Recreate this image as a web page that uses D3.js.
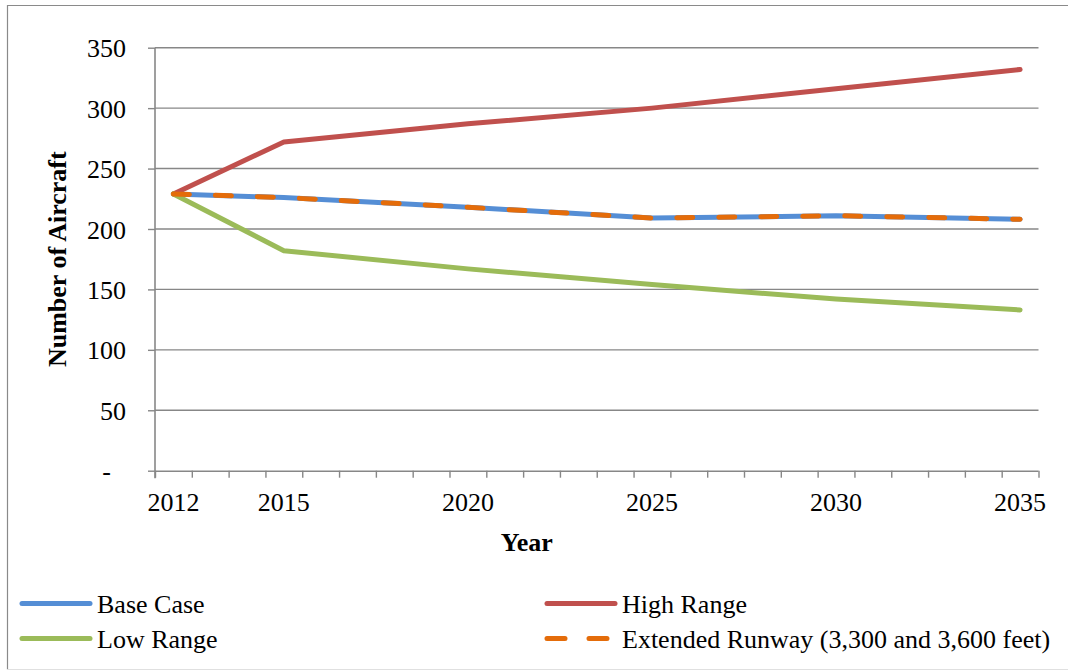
<!DOCTYPE html>
<html>
<head>
<meta charset="utf-8">
<script src="https://cdn.jsdelivr.net/npm/d3@7"></script>
<style>
  html, body { margin: 0; padding: 0; background: #fff; }
  svg { display: block; }
</style>
</head>
<body>
<svg id="chart" width="1068" height="671"></svg>
<script>
// ---- data ----
const years = [2012, 2015, 2020, 2025, 2030, 2035];
const baseCase = [229, 226, 218, 209, 211, 208];
const highRange = [229, 272, 287, 300, 316, 332];
const lowRange = [229, 182, 167, 154, 142, 133];
const extendedRunway = [229, 226, 218, 209, 211, 208];
const yTicks = [0, 50, 100, 150, 200, 250, 300, 350];
const seriesNames = ["Base Case", "High Range", "Low Range", "Extended Runway (3,300 and 3,600 feet)"];

const colors = {
  "Base Case": "#558ED5",
  "High Range": "#C0504D",
  "Low Range": "#9BBB59",
  "Extended Runway (3,300 and 3,600 feet)": "#E46C0A"
};
const FONT = "'Liberation Serif', 'Times New Roman', Tinos, serif";

const svg = d3.select("#chart");

// frame
svg.append("line").attr("x1", 7).attr("x2", 1068).attr("y1", 5.5).attr("y2", 5.5)
  .attr("stroke", "#8a8a8a").attr("stroke-width", 1.2);
svg.append("line").attr("x1", 7.5).attr("x2", 7.5).attr("y1", 5).attr("y2", 669.5)
  .attr("stroke", "#8a8a8a").attr("stroke-width", 1.2);
svg.append("line").attr("x1", 7).attr("x2", 1068).attr("y1", 669.5).attr("y2", 669.5)
  .attr("stroke", "#e0e0e0").attr("stroke-width", 1);

const pLeft = 155, pRight = 1038.5, pTop = 47.7, pBottom = 470.7;
const x = d3.scaleLinear().domain([2011.5, 2035.5]).range([pLeft, pRight]);
const y = d3.scaleLinear().domain([0, 350]).range([pBottom, pTop]);

// gridlines
svg.append("g").selectAll("line").data(yTicks.filter(d => d > 0)).join("line")
  .attr("x1", pLeft).attr("x2", pRight)
  .attr("y1", d => y(d)).attr("y2", d => y(d))
  .attr("stroke", "#878787").attr("stroke-width", 1.4);

// y axis
const yAxis = svg.append("g").attr("transform", `translate(${pLeft},0)`)
  .call(d3.axisLeft(y).tickValues(yTicks).tickSize(7).tickPadding(22)
    .tickFormat(d => d === 0 ? "-" : d3.format("d")(d)));
yAxis.attr("font-family", null).attr("font-size", null);
yAxis.select(".domain").remove();
yAxis.selectAll(".tick line").attr("stroke", "#878787").attr("stroke-width", 1.4);
yAxis.selectAll(".tick text")
  .style("font-family", FONT).style("font-size", "26px").style("fill", "#000")
  .attr("dy", "0.35em");
yAxis.selectAll(".tick").filter(d => d === 0).select("text").attr("x", -44);
svg.append("line").attr("x1", pLeft).attr("x2", pLeft).attr("y1", pTop).attr("y2", pBottom + 7.5)
  .attr("stroke", "#878787").attr("stroke-width", 1.6);

// x axis
const xTickVals = d3.range(2011.5, 2036, 1);
const xAxis = svg.append("g").attr("transform", `translate(0,${pBottom})`)
  .call(d3.axisBottom(x).tickValues(xTickVals).tickSize(7).tickFormat(""));
xAxis.select(".domain").attr("stroke", "#878787").attr("stroke-width", 1.6)
  .attr("d", `M${pLeft},0.5H${pRight}`);
xAxis.selectAll(".tick line").attr("stroke", "#878787").attr("stroke-width", 1.4);
svg.append("g").selectAll("text").data(years).join("text")
  .attr("x", d => x(d)).attr("y", 511)
  .attr("text-anchor", "middle")
  .style("font-family", FONT).style("font-size", "26px").style("fill", "#000")
  .text(d => d);

// axis titles
svg.append("text").attr("x", (pLeft + pRight) / 2 - 70).attr("y", 551)
  .attr("text-anchor", "middle")
  .style("font-family", FONT).style("font-size", "26px").style("font-weight", "bold")
  .text("Year");
svg.append("text").attr("transform", `translate(66,${(pTop + pBottom) / 2}) rotate(-90)`)
  .attr("text-anchor", "middle")
  .style("font-family", FONT).style("font-size", "26px").style("font-weight", "bold")
  .text("Number of Aircraft");

// lines
const line = d3.line().x((d, i) => x(years[i])).y(d => y(d));
const seriesData = [
  { name: "Base Case", values: baseCase, dash: null },
  { name: "High Range", values: highRange, dash: null },
  { name: "Low Range", values: lowRange, dash: null },
  { name: "Extended Runway (3,300 and 3,600 feet)", values: extendedRunway, dash: "16,26" }
];
svg.append("g").selectAll("path").data(seriesData).join("path")
  .attr("d", d => line(d.values))
  .attr("fill", "none")
  .attr("stroke", d => colors[d.name])
  .attr("stroke-width", 5)
  .attr("stroke-linecap", "round")
  .attr("stroke-linejoin", "round")
  .attr("stroke-dasharray", d => d.dash);

// legend
const legendPos = [
  { name: seriesNames[0], lx: 20, ly: 603.5, dash: null },
  { name: seriesNames[1], lx: 545, ly: 603.5, dash: null },
  { name: seriesNames[2], lx: 20, ly: 638.5, dash: null },
  { name: seriesNames[3], lx: 545, ly: 638.5, dash: "18,24" }
];
const lg = svg.append("g").selectAll("g").data(legendPos).join("g");
lg.append("line")
  .attr("x1", d => d.lx + 2).attr("x2", d => d.lx + 70)
  .attr("y1", d => d.ly).attr("y2", d => d.ly)
  .attr("stroke", d => colors[d.name]).attr("stroke-width", 5)
  .attr("stroke-linecap", "round")
  .attr("stroke-dasharray", d => d.dash);
lg.append("text")
  .attr("x", d => d.lx + 77).attr("y", d => d.ly + 9)
  .style("font-family", FONT).style("font-size", "26px").style("fill", "#000")
  .text(d => d.name);
</script>
</body>
</html>
